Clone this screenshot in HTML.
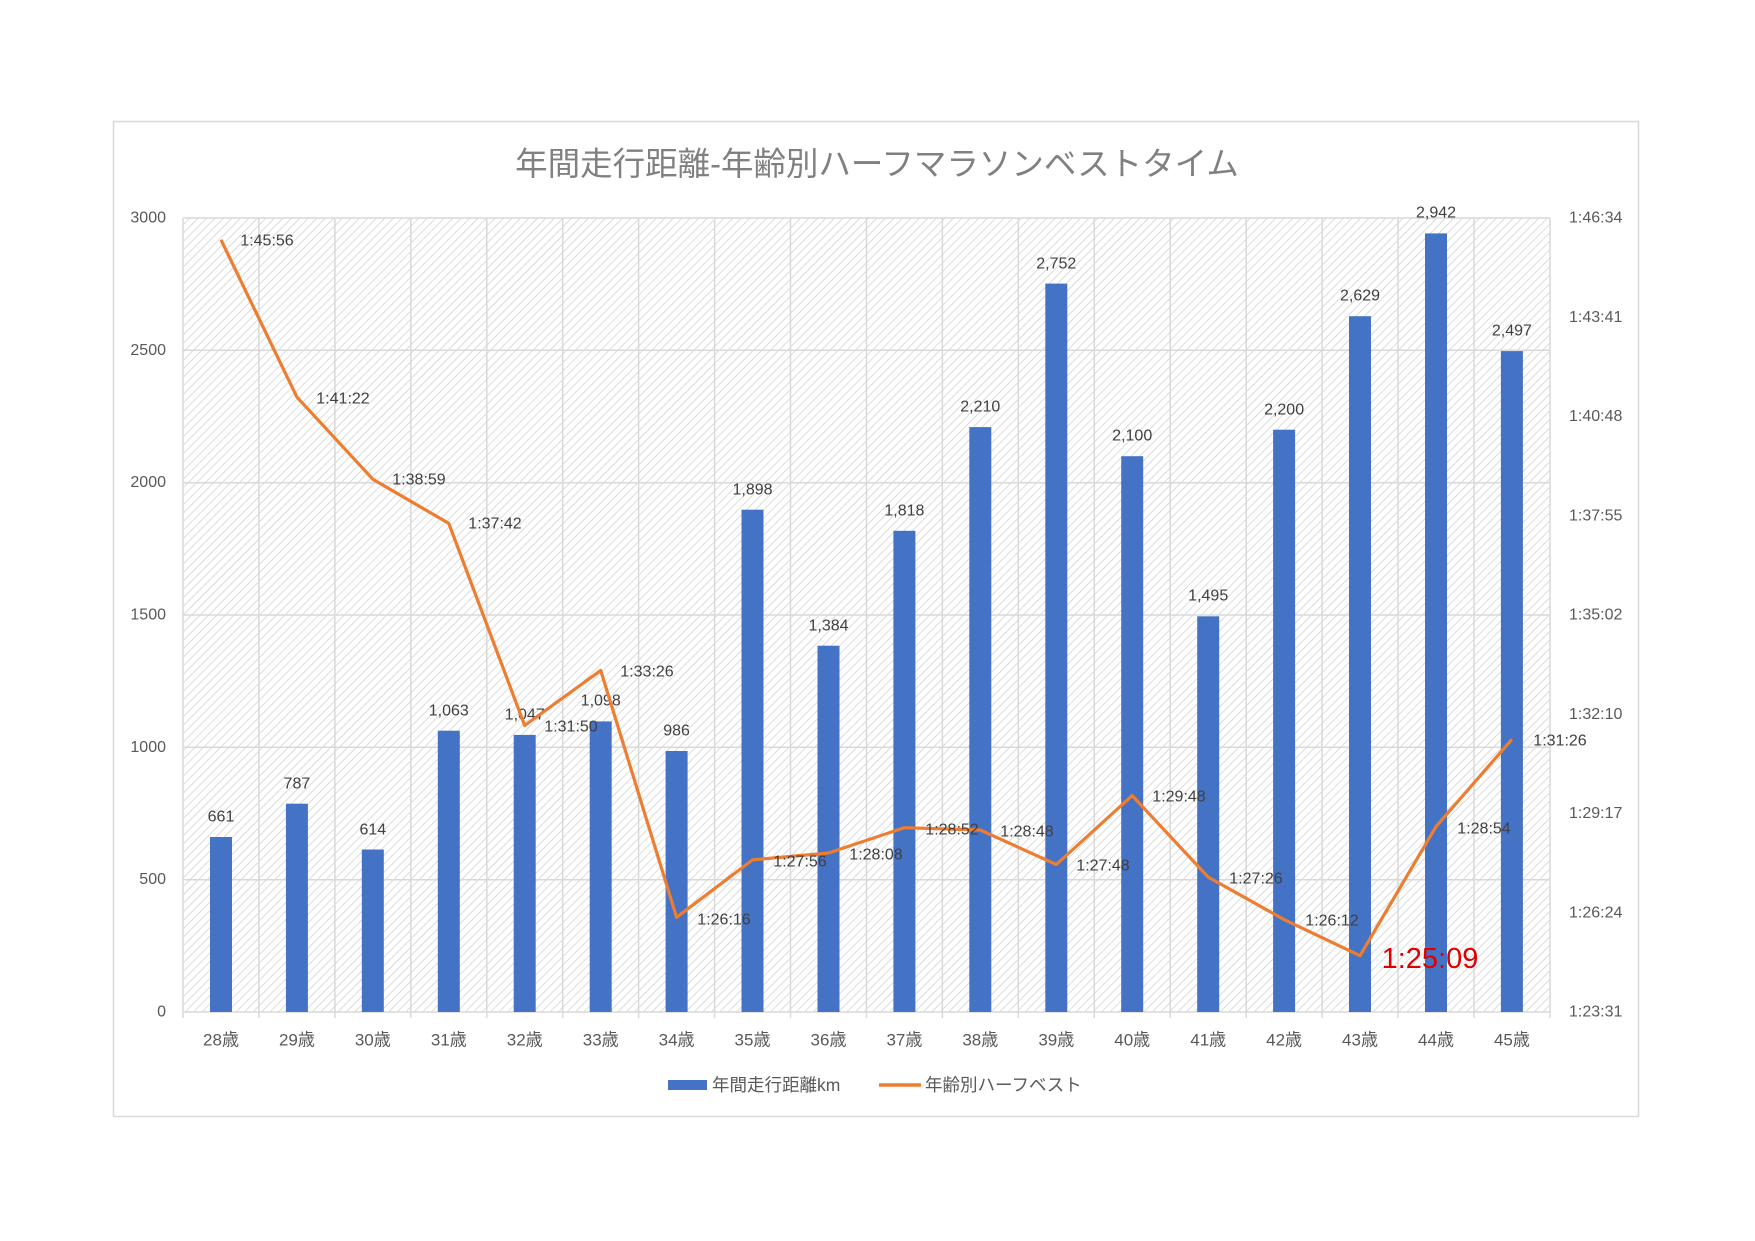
<!DOCTYPE html>
<html><head><meta charset="utf-8"><style>
body{margin:0;background:#fff;}
svg{display:block;font-family:"Liberation Sans","Noto Sans CJK JP",sans-serif;}
</style></head><body>
<svg width="1755" height="1241" viewBox="0 0 1755 1241" xmlns="http://www.w3.org/2000/svg">
<defs>
<pattern id="h" width="6" height="6" patternUnits="userSpaceOnUse" patternTransform="rotate(45)">
<rect width="6" height="6" fill="#fff"/><line x1="0" y1="0" x2="0" y2="6" stroke="#cdcdcd" stroke-width="1.4"/>
</pattern>
</defs>
<rect x="113.5" y="121.5" width="1525" height="995" fill="#fff" stroke="#d9d9d9" stroke-width="1.5"/>
<text x="877" y="164" font-size="32.5" fill="#808080" text-anchor="middle" dominant-baseline="central">年間走行距離-年齢別ハーフマラソンベストタイム</text>
<rect x="183" y="218" width="1367" height="794" fill="url(#h)"/>
<g stroke="#d9d9d9" stroke-width="1.5">
<line x1="183" y1="218" x2="1550" y2="218"/><line x1="183" y1="350.3" x2="1550" y2="350.3"/><line x1="183" y1="482.7" x2="1550" y2="482.7"/><line x1="183" y1="615" x2="1550" y2="615"/><line x1="183" y1="747.3" x2="1550" y2="747.3"/><line x1="183" y1="879.7" x2="1550" y2="879.7"/><line x1="183" y1="1012" x2="1550" y2="1012"/>
<line x1="183" y1="218" x2="183" y2="1018"/><line x1="258.9" y1="218" x2="258.9" y2="1018"/><line x1="334.9" y1="218" x2="334.9" y2="1018"/><line x1="410.8" y1="218" x2="410.8" y2="1018"/><line x1="486.8" y1="218" x2="486.8" y2="1018"/><line x1="562.7" y1="218" x2="562.7" y2="1018"/><line x1="638.6" y1="218" x2="638.6" y2="1018"/><line x1="714.6" y1="218" x2="714.6" y2="1018"/><line x1="790.5" y1="218" x2="790.5" y2="1018"/><line x1="866.5" y1="218" x2="866.5" y2="1018"/><line x1="942.4" y1="218" x2="942.4" y2="1018"/><line x1="1018.3" y1="218" x2="1018.3" y2="1018"/><line x1="1094.3" y1="218" x2="1094.3" y2="1018"/><line x1="1170.2" y1="218" x2="1170.2" y2="1018"/><line x1="1246.2" y1="218" x2="1246.2" y2="1018"/><line x1="1322.1" y1="218" x2="1322.1" y2="1018"/><line x1="1398" y1="218" x2="1398" y2="1018"/><line x1="1474" y1="218" x2="1474" y2="1018"/><line x1="1550" y1="218" x2="1550" y2="1018"/>
</g>
<g fill="#4472C4">
<rect x="210" y="837" width="22" height="175"/>
<rect x="285.9" y="803.7" width="22" height="208.3"/>
<rect x="361.8" y="849.5" width="22" height="162.5"/>
<rect x="437.8" y="730.7" width="22" height="281.3"/>
<rect x="513.7" y="734.9" width="22" height="277.1"/>
<rect x="589.7" y="721.4" width="22" height="290.6"/>
<rect x="665.6" y="751" width="22" height="261"/>
<rect x="741.5" y="509.7" width="22" height="502.3"/>
<rect x="817.5" y="645.7" width="22" height="366.3"/>
<rect x="893.4" y="530.8" width="22" height="481.2"/>
<rect x="969.3" y="427.1" width="22" height="584.9"/>
<rect x="1045.3" y="283.6" width="22" height="728.4"/>
<rect x="1121.2" y="456.2" width="22" height="555.8"/>
<rect x="1197.2" y="616.3" width="22" height="395.7"/>
<rect x="1273.1" y="429.7" width="22" height="582.3"/>
<rect x="1349" y="316.2" width="22" height="695.8"/>
<rect x="1425" y="233.4" width="22" height="778.6"/>
<rect x="1500.9" y="351.1" width="22" height="660.9"/>
</g>
<g font-size="16" fill="#404040" text-anchor="middle" dominant-baseline="central">
<text x="221" y="817">661</text><text x="296.9" y="784">787</text><text x="372.8" y="830">614</text><text x="448.8" y="711">1,063</text><text x="524.7" y="715">1,047</text><text x="600.7" y="701">1,098</text><text x="676.6" y="731">986</text><text x="752.5" y="490">1,898</text><text x="828.5" y="626">1,384</text><text x="904.4" y="511">1,818</text><text x="980.3" y="407">2,210</text><text x="1056.3" y="264">2,752</text><text x="1132.2" y="436">2,100</text><text x="1208.2" y="596">1,495</text><text x="1284.1" y="410">2,200</text><text x="1360" y="296">2,629</text><text x="1436" y="213">2,942</text><text x="1511.9" y="331">2,497</text>
</g>
<polyline fill="none" stroke="#ED7D31" stroke-width="3.2" stroke-linejoin="round" points="221,239.8 296.9,397.1 372.8,479.2 448.8,523.4 524.7,725.5 600.7,670.4 676.6,917.3 752.5,859.9 828.5,853 904.4,827.7 980.3,830 1056.3,864.5 1132.2,795.6 1208.2,877.1 1284.1,919.6 1360,955.7 1436,826.6 1511.9,739.3"/>
<g font-size="16" fill="#404040" text-anchor="middle" dominant-baseline="central">
<text x="267" y="241">1:45:56</text><text x="343" y="399">1:41:22</text><text x="419" y="480">1:38:59</text><text x="495" y="524">1:37:42</text><text x="571" y="727">1:31:50</text><text x="647" y="672">1:33:26</text><text x="724" y="920">1:26:16</text><text x="800" y="862">1:27:56</text><text x="876" y="855">1:28:08</text><text x="952" y="830">1:28:52</text><text x="1027" y="832">1:28:48</text><text x="1103" y="866">1:27:48</text><text x="1179" y="797">1:29:48</text><text x="1256" y="879">1:27:26</text><text x="1332" y="921">1:26:12</text><text x="1484" y="829">1:28:54</text><text x="1560" y="741">1:31:26</text>
</g>
<text x="1430" y="959" font-size="29" fill="#E00000" text-anchor="middle" dominant-baseline="central">1:25:09</text>
<g font-size="16" fill="#595959" text-anchor="end" dominant-baseline="central">
<text x="166" y="1012">0</text><text x="166" y="879.7">500</text><text x="166" y="747.3">1000</text><text x="166" y="615">1500</text><text x="166" y="482.7">2000</text><text x="166" y="350.3">2500</text><text x="166" y="218">3000</text>
</g>
<g font-size="16" fill="#595959" dominant-baseline="central">
<text x="1569" y="1012">1:23:31</text><text x="1569" y="912.75">1:26:24</text><text x="1569" y="813.5">1:29:17</text><text x="1569" y="714.25">1:32:10</text><text x="1569" y="615">1:35:02</text><text x="1569" y="515.75">1:37:55</text><text x="1569" y="416.5">1:40:48</text><text x="1569" y="317.25">1:43:41</text><text x="1569" y="218">1:46:34</text>
</g>
<g font-size="17" fill="#595959" text-anchor="middle" dominant-baseline="central">
<text x="221" y="1040">28歳</text><text x="296.9" y="1040">29歳</text><text x="372.8" y="1040">30歳</text><text x="448.8" y="1040">31歳</text><text x="524.7" y="1040">32歳</text><text x="600.7" y="1040">33歳</text><text x="676.6" y="1040">34歳</text><text x="752.5" y="1040">35歳</text><text x="828.5" y="1040">36歳</text><text x="904.4" y="1040">37歳</text><text x="980.3" y="1040">38歳</text><text x="1056.3" y="1040">39歳</text><text x="1132.2" y="1040">40歳</text><text x="1208.2" y="1040">41歳</text><text x="1284.1" y="1040">42歳</text><text x="1360" y="1040">43歳</text><text x="1436" y="1040">44歳</text><text x="1511.9" y="1040">45歳</text>
</g>
<rect x="668" y="1080" width="39" height="10" fill="#4472C4"/>
<text x="712" y="1085" font-size="17.5" fill="#595959" dominant-baseline="central">年間走行距離km</text>
<line x1="879" y1="1085" x2="921" y2="1085" stroke="#ED7D31" stroke-width="3.5"/>
<text x="925" y="1085" font-size="17.5" fill="#595959" dominant-baseline="central">年齢別ハーフベスト</text>
</svg>
</body></html>
